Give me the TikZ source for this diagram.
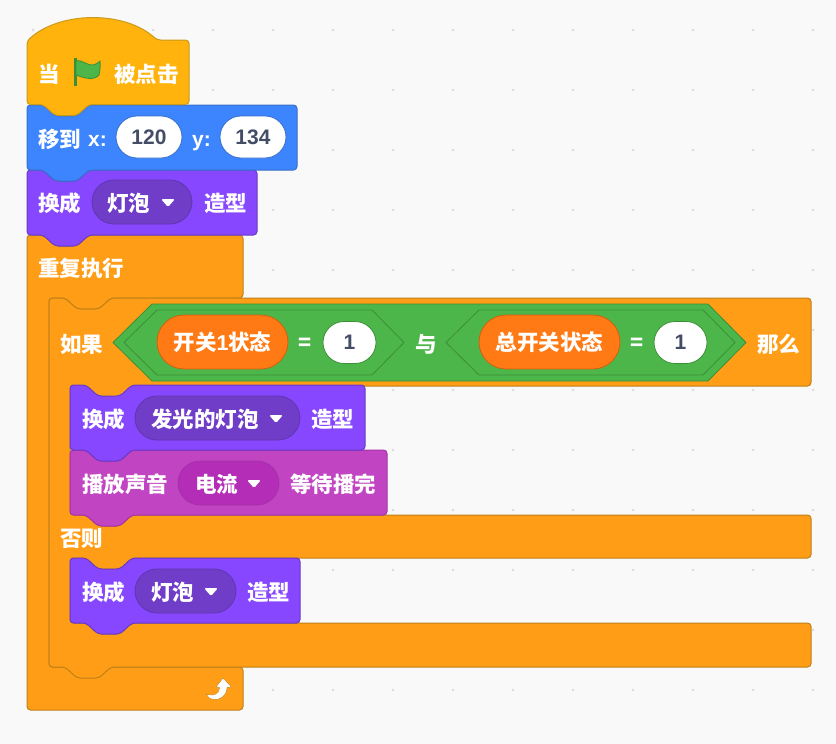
\documentclass[tikz,border=0pt]{standalone}
\usepackage{fontspec}
\usepackage{tikz}
\usetikzlibrary{shapes.misc}
\usetikzlibrary{positioning}
\newfontfamily\cjk{Noto Sans CJK SC}
\newfontfamily\lat{Liberation Sans}
\definecolor{canvas}{HTML}{F9F9F9}
\definecolor{griddot}{HTML}{DDDDDD}
\definecolor{hatfill}{HTML}{FFB30C}
\definecolor{hatline}{HTML}{C99A1C}
\definecolor{motionfill}{HTML}{3D84FF}
\definecolor{motionline}{HTML}{3A6FC8}
\definecolor{lookfill}{HTML}{8647FF}
\definecolor{lookline}{HTML}{6A3BC4}
\definecolor{lookdrop}{HTML}{6F3DC8}
\definecolor{lookdropline}{HTML}{6135B0}
\definecolor{soundfill}{HTML}{C145C3}
\definecolor{soundline}{HTML}{A532A8}
\definecolor{sounddrop}{HTML}{B32DB6}
\definecolor{controlfill}{HTML}{FF9E16}
\definecolor{controlline}{HTML}{C08018}
\definecolor{opfill}{HTML}{4DB64A}
\definecolor{opline}{HTML}{3B8F37}
\definecolor{varfill}{HTML}{FF7A14}
\definecolor{varline}{HTML}{D0600F}
\definecolor{numtext}{HTML}{434D66}
\newcommand{\notchtop}[2]{-- ({#1+16},#2) -- ({#1+28},{#2+11}) -- ({#1+50},{#2+11}) -- ({#1+62},#2)}
\newcommand{\bumpback}[2]{-- ({#1+62},#2) -- ({#1+50},{#2+11}) -- ({#1+28},{#2+11}) -- ({#1+16},#2)}
\newcommand{\stackblock}[5]{\draw[#1] (#2,{#3+10}) -- (#2,#3) \notchtop{#2}{#3} -- (#4,#3) -- (#4,#5) \bumpback{#2}{#5} -- (#2,#5) -- cycle;}
\newcommand{\caret}[2]{\fill[white,rounded corners=1.5pt] ({#1-7},{#2-4}) -- ({#1+7},{#2-4}) -- (#1,{#2+4}) -- cycle;}
\tikzset{
    block/.style={rounded corners=3.5pt, line width=1pt},
    hatblock/.style={block, fill=hatfill, draw=hatline},
    motionblock/.style={block, fill=motionfill, draw=motionline},
    lookblock/.style={block, fill=lookfill, draw=lookline},
    soundblock/.style={block, fill=soundfill, draw=soundline},
    controlblock/.style={block, fill=controlfill, draw=controlline},
    hexblock/.style={fill=opfill, draw=opline, line width=.8pt, line join=round},
    lbl/.style={anchor=west, inner sep=0pt, yshift=-1pt, text=white, font=\cjk\bfseries\fontsize{21.5}{21.5}\selectfont},
    latinlbl/.style={anchor=base west, inner sep=0pt, text=white, font=\lat\bfseries\fontsize{21}{21}\selectfont},
    pill/.style={rounded rectangle, minimum height=42pt, inner sep=0pt, line width=.8pt},
    numpill/.style={pill, fill=white, text=numtext, font=\lat\bfseries\fontsize{21}{21}\selectfont},
    droppill/.style={pill, minimum height=44pt},
    varpill/.style={rounded rectangle, minimum height=54pt, inner sep=0pt, line width=.8pt, fill=varfill, draw=varline, text=white, font=\cjk\bfseries\fontsize{21.5}{21.5}\selectfont},
}
\begin{document}
\begin{tikzpicture}[x=1pt, y=-1pt]
    \useasboundingbox (0,0) rectangle (836,744);
    \fill[canvas] (0,0) rectangle (836,744);
    \foreach \dotx in {33,93,...,813}
        \foreach \doty in {30,90,...,690}
            \fill[griddot] (\dotx,\doty) circle (1.5pt);

    % forever block
    \draw[controlblock] (27,245) -- (27,235) \notchtop{27}{235} -- (243,235) -- (243,298) \bumpback{49}{298}
        -- (49,298) -- (49,667) -- (243,667) -- (243,710) -- (27,710) -- cycle;
    % if else block
    \draw[controlblock] (49,308) -- (49,298) \notchtop{49}{298} -- (811,298) -- (811,386) \bumpback{70}{386}
        -- (70,386) -- (70,515) \notchtop{70}{515} -- (811,515) -- (811,558) \bumpback{70}{558}
        -- (70,558) -- (70,623) \notchtop{70}{623} -- (811,623) -- (811,667) \bumpback{49}{667}
        -- (49,667) -- cycle;

    \stackblock{lookblock}{70}{558}{300}{623}
    \stackblock{soundblock}{70}{450}{387}{515}
    \stackblock{lookblock}{70}{385}{365}{450}
    \stackblock{lookblock}{27}{170}{257}{235}
    \stackblock{motionblock}{27}{105}{297}{170}
    \draw[hatblock] (27,41) .. controls (60,10.7) and (125,10.7) .. (157,40) -- (189,40) -- (189,104.5)
        \bumpback{27}{104.5} -- (27,104.5) -- cycle;

    % flag
    \fill[opline] (74,58) rectangle (76.5,86);
    \draw[fill=opfill, draw=opline, line width=.8pt] (76,60.5) .. controls (83,60) and (88,66) .. (93,65)
        .. controls (96,64.5) and (98,63) .. (100,61) .. controls (100.5,66) and (100,71) .. (99,75)
        .. controls (94,81) and (84,78) .. (76,75) -- cycle;

    \node[lbl] (whenTxt) at (38,73) {当};
    \node[lbl] (clickTxt) at (114,73) {被点击};

    \node[lbl] (gotoTxt) at (38,138) {移到};
    \node[latinlbl] (xTxt) at (88,146) {x:};
    \node[numpill, draw=motionline, minimum width=66pt] (xVal) at (149,137) {120};
    \node[latinlbl] (yTxt) at (192,146) {y:};
    \node[numpill, draw=motionline, minimum width=66pt] (yVal) at (253,137) {134};

    \node[lbl] (switchA) at (38,202) {换成};
    \node[droppill, fill=lookdrop, draw=lookdropline, minimum width=100pt] (dropA) at (142,202) {};
    \node[lbl] (dropAtxt) at (107,202) {灯泡};
    \caret{168}{203}
    \node[lbl] (lookA) at (204,202) {造型};

    \node[lbl] (foreverTxt) at (38,267) {重复执行};
    \node[lbl] (ifTxt) at (60,343) {如果};

    \draw[hexblock] (113,342.5) -- (152,304) -- (708,304) -- (746,342.5) -- (708,381) -- (152,381) -- cycle;
    \draw[hexblock] (124,342.5) -- (157,310) -- (372,310) -- (404,342.5) -- (372,375) -- (157,375) -- cycle;
    \draw[hexblock] (446,342.5) -- (479,310) -- (703,310) -- (735,342.5) -- (703,375) -- (479,375) -- cycle;

    \node[varpill, minimum width=131pt] (varA) at (222.5,342) {\raisebox{-1pt}{开关{\lat 1}状态}};
    \node[lbl] (eqA) at (298,343) {=};
    \node[numpill, draw=opline, minimum width=53pt] (valA) at (349.5,342.5) {1};
    \node[lbl] (andTxt) at (415,343) {与};
    \node[varpill, minimum width=141pt] (varB) at (549.5,342) {\raisebox{-1pt}{总开关状态}};
    \node[lbl] (eqB) at (630,343) {=};
    \node[numpill, draw=opline, minimum width=53pt] (valB) at (680.5,342.5) {1};
    \node[lbl] (thenTxt) at (757,343) {那么};

    \node[lbl] (switchB) at (82,418) {换成};
    \node[droppill, fill=lookdrop, draw=lookdropline, minimum width=165pt] (dropB) at (217.5,418) {};
    \node[lbl] (dropBtxt) at (151,418) {发光的灯泡};
    \caret{276}{419}
    \node[lbl] (lookB) at (311,418) {造型};

    \node[lbl] (playTxt) at (82,483) {播放声音};
    \node[droppill, fill=sounddrop, draw=soundline, minimum width=101pt] (dropC) at (228.5,483) {};
    \node[lbl] (dropCtxt) at (195,483) {电流};
    \caret{254}{484}
    \node[lbl] (waitTxt) at (290,483) {等待播完};

    \node[lbl] (elseTxt) at (60,537) {否则};

    \node[lbl] (switchC) at (82,591) {换成};
    \node[droppill, fill=lookdrop, draw=lookdropline, minimum width=101pt] (dropD) at (185.5,591) {};
    \node[lbl] (dropDtxt) at (151,591) {灯泡};
    \caret{211}{592}
    \node[lbl] (lookC) at (247,591) {造型};

    % loop arrow
    \draw[fill=white, draw=controlline, line width=.4pt, line join=round] (223,678) -- (231.5,687) -- (227,687.5)
        .. controls (227,696) and (219,700.5) .. (214,699.5) .. controls (210,699) and (207,697) .. (206,694)
        .. controls (211,696) and (219,696) .. (219.5,687.5) -- (216,687) -- cycle;
\end{tikzpicture}
\end{document}
